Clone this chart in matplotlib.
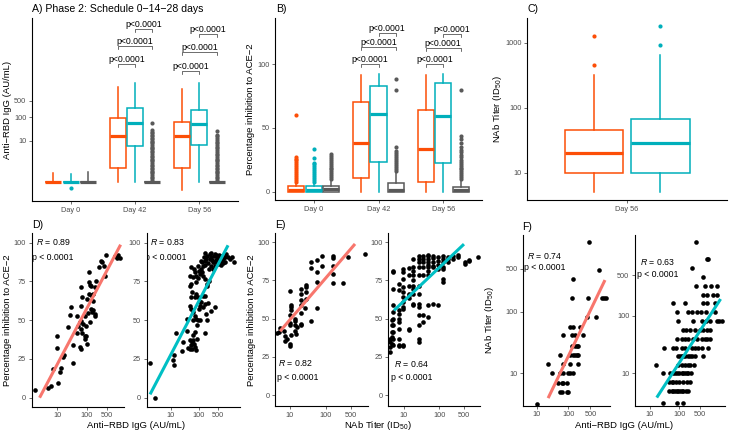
import numpy as np
import matplotlib
matplotlib.use("Agg")
import matplotlib.pyplot as plt

plt.rcParams["font.family"] = ["Liberation Sans", "DejaVu Sans"]
plt.rcParams["mathtext.fontset"] = "custom"
plt.rcParams["mathtext.rm"] = "Liberation Sans"
plt.rcParams["mathtext.it"] = "Liberation Sans:italic"
plt.rcParams["mathtext.default"] = "regular"

ORANGE = "#FC4E07"
TEAL = "#00AFBB"
GREY = "#595959"
FIT_L = "#F8766D"
FIT_R = "#00BFC4"

# ---------------- data ----------------
days = ["Day 0", "Day 42", "Day 56"]

# A) anti-RBD IgG (AU/mL), box stats per day
a_or_med = [0.17, 15.5, 15.5]
a_or_q1 = [0.17, 0.68, 0.68]
a_or_q3 = [0.17, 91, 61]
a_or_lo = [0.17, 0.17, 0.078]
a_or_hi = [0.41, 1890, 1550]
a_or_fl = [[], [], []]
a_te_med = [0.17, 56, 50]
a_te_q1 = [0.17, 5.8, 6.4]
a_te_q3 = [0.17, 241, 199]
a_te_lo = [0.17, 0.17, 0.17]
a_te_hi = [0.375, 2800, 2800]
a_te_fl = [[0.095], [], []]
a_gr_med = [0.17, 0.17, 0.17]
a_gr_q1 = [0.17, 0.17, 0.17]
a_gr_q3 = [0.17, 0.17, 0.17]
a_gr_lo = [0.17, 0.17, 0.17]
a_gr_hi = [0.46, 0.17, 0.17]
a_gr_fl = [[],
           [55.6, 28, 24, 20.8, 17, 15.5, 13, 11.6, 10, 8.6, 7.5, 6.4, 5.5, 4.8, 4.2, 3.6, 3.1,
            2.7, 2.3, 2.0, 1.7, 1.5, 1.3, 1.1, 0.95, 0.82, 0.7, 0.61, 0.52, 0.46, 0.4, 0.34, 0.29, 0.25, 0.21],
           [25.4, 18, 15, 12.5, 10.5, 9, 7.6, 6.4, 5.4, 4.6, 3.9, 3.3, 2.8, 2.4, 2.0, 1.7, 1.5,
            1.3, 1.1, 0.95, 0.82, 0.7, 0.61, 0.52, 0.46, 0.4, 0.34, 0.29, 0.25, 0.21]]
a_brackets = [[18000, 105000, 556000], [9060, 58300, 340000]]

# B) percentage inhibition to ACE-2
b_or_med = [1.5, 38.5, 33.5]
b_or_q1 = [0, 10.7, 7.3]
b_or_q3 = [4.8, 70.6, 64.3]
b_or_lo = [0, 0, 0]
b_or_hi = [7, 91.4, 91.4]
b_or_fl = [[8, 9.5, 11, 12.5, 14, 15.5, 17, 18.5, 20, 21.5, 23, 24.5, 26, 27.5, 60], [], []]
b_te_med = [1.5, 61, 59.8]
b_te_q1 = [0, 23.7, 22.4]
b_te_q3 = [4.8, 82.8, 85.4]
b_te_lo = [0, 0, 0]
b_te_hi = [7, 92, 92.6]
b_te_fl = [[8, 9.5, 11, 12.5, 14, 15.5, 17, 18.5, 20, 21.5, 22.5, 26.5, 33.5], [], []]
b_gr_med = [2, 1.2, 1]
b_gr_q1 = [0, 0, 0]
b_gr_q3 = [4.8, 6.8, 3.8]
b_gr_lo = [0, 0, 0]
b_gr_hi = [9, 15, 9]
b_gr_fl = [[10, 11.5, 13, 14.5, 16, 17.5, 19, 20.5, 22, 23.5, 25, 26.5, 28, 29.5],
           [16.5, 18, 19.5, 21, 22.5, 24, 25.5, 27, 28.5, 30, 32, 35, 80, 88.5],
           [10, 11.5, 13, 14.5, 16, 17.5, 19, 20.5, 22, 23.5, 25, 27, 29, 31, 33, 35, 38, 41, 44, 80]]
b_brackets = [[100, 113.8, 124.3], [100, 113, 124]]

# C) NAb titer at day 56 (orange, teal)
c_med = [20, 28]
c_q1 = [10, 10]
c_q3 = [45, 66]
c_lo = [5, 5]
c_hi = [320, 640]
c_fl = [[453, 1280], [905, 1810]]

# D) IgG vs inhibition
d1_igg = [1.8, 4.8, 5.9, 10.5, 12.3, 13.7, 6.9, 9.5, 10, 15.2,
          16.9, 33, 35, 23, 28.4, 26.3, 47.9, 50.5, 45.5, 57.5,
          65.5, 72.7, 65.5, 69, 85, 89.6, 59, 65.5, 100, 97,
          65.5, 69, 65.5, 116, 122, 129, 143, 116, 136, 159,
          168, 143, 151, 186, 196, 168, 186, 105, 110, 129,
          85, 97, 212, 255, 298, 330, 386, 429, 452, 890,
          1040, 1318, 1157]
d1_pct = [4.7, 6.0, 7.5, 9.3, 16.8, 19.4, 18.3, 32.1, 39.9, 26.5,
          27.4, 22.6, 33.8, 45.9, 58.2, 53.2, 52.8, 46.3, 42.0, 48.5,
          49.6, 47.2, 44.2, 42.0, 37.7, 39.9, 32.5, 31.3, 34.9, 39.9,
          59.3, 64.7, 71.1, 80.8, 74.8, 72.6, 72.2, 66.8, 66.2, 66.8,
          62.5, 57.1, 55.4, 53.9, 52.4, 56.7, 71.1, 63.6, 54.5, 48.9,
          52.4, 46.3, 75.4, 84.1, 88.4, 87.3, 85.1, 78.7, 92.0, 91.2,
          89.9, 90.1, 92.0]
d2_igg = [1.8, 2.7, 12, 13, 13, 16, 26, 28, 37, 39,
          42, 48, 55, 58, 63, 68, 72, 80, 49, 65,
          76, 90, 59, 49, 55, 63, 72, 83, 95, 100,
          109, 124, 143, 164, 188, 204, 63, 52, 58, 72,
          83, 95, 112, 143, 173, 215, 193, 283, 394, 168,
          109, 85, 48, 55, 83, 95, 109, 124, 143, 147,
          164, 204, 228, 95, 100, 118, 131, 155, 173, 204,
          215, 247, 283, 325, 353, 394, 427, 464, 518, 578,
          645, 740, 849, 973, 1117, 1280, 1828, 1550, 268, 325,
          373, 228, 490, 611, 740, 416, 283, 173, 247, 72,
          65, 80, 55, 68, 49, 188, 300, 353, 440, 545,
          680, 800, 900, 164, 131]
d2_pct = [22.6, 0, 24.1, 27.8, 20.9, 41.7, 30.1, 35.9, 42.7, 50.9,
          32.1, 31.2, 33.8, 35.9, 37, 34.8, 32.7, 30.6, 37, 40.2,
          42.3, 38, 31.6, 59, 57.3, 55.1, 53, 50.9, 49.8, 57.3,
          59.4, 61.5, 58.3, 60.5, 54.1, 50.4, 50.4, 64.7, 67.9, 64.7,
          66.9, 64.7, 62, 65.8, 65.8, 61.1, 72.2, 56.2, 58.3, 41.9,
          49.8, 46.6, 72.2, 73.3, 74.4, 76.9, 79.7, 82.9, 85, 78.6,
          76.5, 73.3, 75.4, 85, 81.8, 88.2, 87.2, 90.4, 88.2, 91.5,
          86.8, 89.3, 90.4, 87.2, 91.5, 92.5, 88.9, 90.4, 91.9, 88.2,
          91.5, 89.3, 91, 92.5, 90.4, 89.7, 87.6, 91, 85, 83.3,
          84.6, 82.9, 86.1, 85.5, 86.8, 91.9, 93.6, 93.2, 92.5, 80.8,
          77.6, 78.6, 84, 83.3, 78.6, 89.3, 88.9, 87.6, 87.2, 89.7,
          88.2, 90.4, 87.6, 85.5, 80.8]

# E) NAb titer vs inhibition
e1_nab = [4.4, 5.1, 5.3, 6.8, 7.1, 7.1, 8.1, 10, 10, 10,
          10, 10, 10.4, 10.4, 10.4, 10, 14, 14, 14, 14,
          14.7, 15.3, 20.6, 20.6, 19.8, 19.8, 19.8, 19.8, 27.8, 27.8,
          27.8, 27.8, 26.7, 39, 55, 55, 39, 39, 55, 76,
          76, 153, 153, 153, 153, 153, 303, 408, 1186, 20.6,
          10.9, 55]
e1_pct = [40.9, 41.3, 43.9, 41.7, 38.7, 35.2, 36.5, 33.3, 32, 45.7,
          47.4, 52.2, 58.7, 57.6, 55.4, 67.8, 41.7, 45.7, 48.3, 50,
          40.2, 44.6, 46.5, 53.9, 59.1, 62, 66.3, 69.6, 62.6, 67.4,
          70.7, 72.2, 57.2, 48.3, 57, 74.3, 87.4, 83, 88.7, 90.9,
          84.8, 90.9, 89.6, 84.8, 79.3, 73.5, 73.5, 90.2, 92.4, 45.7,
          39.1, 80.4]
e2_nab = [4.0, 4.0, 4.0, 4.0, 4.6, 4.6, 4.6, 4.6, 4.6, 5.0,
          5.0, 5.0, 5.0, 5.0, 5.0, 5.0, 5.0, 5.0, 5.0, 7.1,
          7.1, 7.1, 7.1, 7.1, 7.1, 7.1, 7.1, 7.1, 7.1, 9.6,
          9.6, 9.6, 9.6, 9.6, 9.6, 9.6, 9.6, 9.6, 9.6, 9.6,
          13.5, 13.5, 13.5, 13.5, 13.5, 13.5, 13.5, 13.5, 18.4, 18.4,
          18.4, 18.4, 18.4, 18.4, 18.4, 18.4, 18.4, 18.4, 26, 26,
          26, 26, 26, 26, 26, 26, 26, 26, 26, 26,
          26, 35, 35, 35, 35, 35, 35, 35, 49, 49,
          49, 49, 49, 49, 49, 49, 49, 49, 68, 68,
          68, 68, 68, 68, 94, 94, 94, 94, 94, 130,
          130, 130, 130, 130, 130, 130, 180, 180, 180, 250,
          250, 346, 346, 535, 535, 693, 693, 1276]
e2_pct = [28.3, 31.5, 34.8, 37, 33.7, 38, 41.3, 45.7, 48.9, 81.5,
          80.4, 69.1, 58.7, 54.3, 50, 45.7, 41.3, 37, 32.6, 72.8,
          68.5, 55.4, 53.3, 50, 47.8, 43.5, 37, 32.6, 32.2, 82.6,
          80.4, 76.1, 70.7, 67.4, 64.1, 60.9, 57.6, 56.5, 32.6, 32.2,
          83, 78.7, 71.7, 66.3, 65.2, 63.5, 43.5, 42.4, 89.1, 83.7,
          81.5, 78.7, 75, 71.7, 69.6, 66.3, 59.8, 58.7, 90.9, 89.1,
          87, 83.7, 78.7, 71.7, 66.3, 59.8, 57.6, 52.2, 45.7, 36.5,
          34.8, 91.3, 89.1, 87, 83.7, 78.7, 52.2, 47.8, 91.7, 90.9,
          89.1, 87, 85.2, 83.7, 81.5, 78.3, 58.7, 51.1, 91.3, 89.6,
          87.4, 84.8, 83.7, 59.8, 90.2, 88, 85.2, 82.2, 58.7, 91.3,
          89.1, 87.4, 83.7, 82.6, 76.1, 73.9, 90.2, 89.1, 87.4, 90.9,
          89.1, 90.2, 91.7, 87, 85.9, 88, 88.7, 90.2]

# F) IgG vs NAb titer
f1_igg = [453, 940, 138, 128, 431, 1140, 1352, 1563, 382, 755,
          113, 145, 235, 128, 163, 300, 70, 128, 163, 185,
          208, 113, 145, 163, 185, 208, 55, 67, 113, 208,
          23, 30, 55, 70, 100, 113, 145, 49, 62, 70,
          89, 55, 62, 89, 100, 10]
f1_nab = [1371, 475, 340, 169, 169, 169, 169, 169, 83, 83,
          57, 57, 57, 42, 42, 42, 42, 28, 28, 28,
          28, 20, 20, 20, 20, 20, 20, 14, 14, 14,
          14, 10, 10, 10, 10, 10, 10, 6.9, 6.9, 6.9,
          6.9, 5, 5, 5, 5, 3.2]
f2_igg = [372, 859, 980, 264, 661, 372, 754, 1178, 1884, 661,
          906, 1377, 1884, 59, 157, 628, 859, 1653, 86, 203,
          264, 413, 536, 815, 1653, 93, 286, 580, 815, 1117,
          1884, 2323, 2791, 137, 169, 232, 344, 509, 661, 906,
          1117, 81, 120, 157, 203, 301, 413, 580, 754, 906,
          1117, 31, 63, 77, 120, 157, 264, 344, 446, 580,
          980, 93, 106, 120, 137, 157, 203, 232, 264, 344,
          661, 16, 93, 120, 157, 203, 232, 318, 27, 48,
          59, 71, 86, 100, 120, 137, 157, 178, 203, 244,
          46, 55, 63, 77, 100, 137, 178, 232, 46, 55,
          63, 71, 81, 93, 106, 120, 137, 169, 203, 27,
          86, 137]
f2_nab = [1927, 964, 964, 682, 476, 332, 332, 332, 332, 229,
          229, 229, 229, 164, 164, 164, 164, 164, 114, 114,
          114, 114, 114, 114, 114, 81, 81, 81, 81, 81,
          81, 81, 81, 56.5, 56.5, 56.5, 56.5, 56.5, 56.5, 56.5,
          56.5, 40, 40, 40, 40, 40, 40, 40, 40, 40,
          40, 28, 28, 28, 28, 28, 28, 28, 28, 28,
          28, 20, 20, 20, 20, 20, 20, 20, 20, 20,
          20, 14, 14, 14, 14, 14, 14, 14, 10, 10,
          10, 10, 10, 10, 10, 10, 10, 10, 10, 10,
          7, 7, 7, 7, 7, 7, 7, 7, 5, 5,
          5, 5, 5, 5, 5, 5, 5, 5, 5, 3,
          3, 3]

# correlation results and fitted lines (y = a + b*log10(x); log10(y) for F)
r_values = [0.89, 0.83, 0.82, 0.64, 0.74, 0.63]
fit_intercept = [-14.25, -6.9, 21.9, 39.7, -0.853, -0.387]
fit_slope = [35.8, 34.5, 27.45, 21.9, 1.065, 0.785]
fit_x_from = [2.5, 1.83, 5.3, 5.2, 23, 17]
fit_x_to = [1425, 1117, 640, 500, 1450, 2570]

# ---------------- drawing ----------------
W, H = 731, 432
fig = plt.figure(figsize=(W / 100, H / 100), dpi=100)


def add_ax(x0, y0, x1, y1):
    # rectangle given in pixels from the top-left corner
    return fig.add_axes([x0 / W, 1 - y1 / H, (x1 - x0) / W, (y1 - y0) / H])


def style(ax):
    for s in ["top", "right"]:
        ax.spines[s].set_visible(False)
    for s in ["left", "bottom"]:
        ax.spines[s].set_linewidth(0.8)
    ax.tick_params(length=2.5, width=0.5, labelsize=5.3, labelcolor="#4D4D4D",
                   color="#333333", pad=1.5)
    ax.minorticks_off()


def boxes(ax, pos, width, color, med, q1, q3, lo, hi, fl):
    stats = [dict(med=m, q1=a, q3=b, whislo=l, whishi=h, fliers=f)
             for m, a, b, l, h, f in zip(med, q1, q3, lo, hi, fl)]
    ax.bxp(stats, positions=pos, widths=width, showcaps=False, patch_artist=True,
           manage_ticks=False,
           boxprops=dict(facecolor="white", edgecolor=color, linewidth=1.1),
           medianprops=dict(color=color, linewidth=2.3, solid_capstyle="butt"),
           whiskerprops=dict(color=color, linewidth=1.1),
           flierprops=dict(marker="o", markersize=3, markerfacecolor=color,
                           markeredgecolor=color, markeredgewidth=0))


def bracket(ax, xa, xb, y, ytip):
    ax.plot([xa, xa, xb, xb], [ytip, y, y, ytip], color="#333333", lw=0.5)
    ax.text((xa + xb) / 2, y, "p<0.0001", ha="center", va="bottom", fontsize=6.3)


cats = np.arange(1, 4)
off = [-0.27, 0, 0.27]
pairs = [(0, 1), (0, 2), (1, 2)]

# ----- A -----
axA = add_ax(32, 18, 238, 201)
axA.set_yscale("log")
boxes(axA, cats + off[0], 0.25, ORANGE, a_or_med, a_or_q1, a_or_q3, a_or_lo, a_or_hi, a_or_fl)
boxes(axA, cats + off[1], 0.25, TEAL, a_te_med, a_te_q1, a_te_q3, a_te_lo, a_te_hi, a_te_fl)
boxes(axA, cats + off[2], 0.25, GREY, a_gr_med, a_gr_q1, a_gr_q3, a_gr_lo, a_gr_hi, a_gr_fl)
for d, levels in zip([2, 3], a_brackets):
    for (i, j), y in zip(pairs, levels):
        bracket(axA, d + off[i], d + off[j], y, y / 10 ** 0.13)
axA.set_xlim(0.4, 3.6)
axA.set_ylim(10 ** -1.574, 10 ** 6.213)
style(axA)
axA.set_yticks([10, 100, 500], ["10", "100", "500"])
axA.set_xticks(cats, days)

# ----- B -----
axB = add_ax(275, 18, 482, 200)
boxes(axB, cats + off[0], 0.25, ORANGE, b_or_med, b_or_q1, b_or_q3, b_or_lo, b_or_hi, b_or_fl)
boxes(axB, cats + off[1], 0.25, TEAL, b_te_med, b_te_q1, b_te_q3, b_te_lo, b_te_hi, b_te_fl)
boxes(axB, cats + off[2], 0.25, GREY, b_gr_med, b_gr_q1, b_gr_q3, b_gr_lo, b_gr_hi, b_gr_fl)
for d, levels in zip([2, 3], b_brackets):
    for (i, j), y in zip(pairs, levels):
        bracket(axB, d + off[i], d + off[j], y, y - 2.4)
axB.set_xlim(0.4, 3.6)
axB.set_ylim(-6.5, 136.3)
style(axB)
axB.set_yticks([0, 50, 100])
axB.set_xticks(cats, days)

# ----- C -----
axC = add_ax(527, 18, 727, 200)
axC.set_yscale("log")
for k, col in enumerate([ORANGE, TEAL]):
    boxes(axC, [1 + [-0.2, 0.2][k]], 0.35, col, [c_med[k]], [c_q1[k]], [c_q3[k]],
          [c_lo[k]], [c_hi[k]], [c_fl[k]])
axC.set_xlim(0.4, 1.6)
axC.set_ylim(10 ** 0.577, 10 ** 3.377)
style(axC)
axC.set_yticks([10, 100, 1000], ["10", "100", "1000"])
axC.set_xticks([1], ["Day 56"])


# ----- scatter panels -----
def scatter(ax, x, y, k, color, logy=False):
    ax.scatter(x, y, s=11, color="black", linewidths=0, zorder=3)
    gx = np.linspace(np.log10(fit_x_from[k]), np.log10(fit_x_to[k]), 50)
    gy = fit_intercept[k] + fit_slope[k] * gx
    ax.plot(10 ** gx, 10 ** gy if logy else gy, color=color, lw=2.2, zorder=4,
            solid_capstyle="butt")
    ax.set_xscale("log")
    if logy:
        ax.set_yscale("log")


def stat(ax, r, xr, yr, xp, yp):
    ax.text(xr, yr, r"$\mathit{R}$ = " + f"{r:.2f}", transform=ax.transAxes,
            fontsize=6.3, va="center", ha="left", clip_on=True)
    ax.text(xp, yp, "p < 0.0001", transform=ax.transAxes,
            fontsize=6.3, va="center", ha="left", clip_on=True)


# D
axD1 = add_ax(31.7, 233.3, 124, 406.7)
scatter(axD1, d1_igg, d1_pct, 0, FIT_L)
axD1.set_xlim(1.35, 1858)
axD1.set_ylim(-5.8, 106)
stat(axD1, r_values[0], 0.05, 0.948, 0.0, 0.859)
axD2 = add_ax(146.7, 233.3, 240, 406.7)
scatter(axD2, d2_igg, d2_pct, 1, FIT_R)
axD2.set_xlim(1.39, 2985)
axD2.set_ylim(-5.8, 106)
stat(axD2, r_values[1], 0.035, 0.948, -0.016, 0.859)

# E
axE1 = add_ax(275, 233, 368, 406)
scatter(axE1, e1_nab, e1_pct, 2, FIT_L)
axE1.set_xlim(3.83, 1468)
axE1.set_ylim(-7.2, 106.1)
stat(axE1, r_values[2], 0.035, 0.247, 0.025, 0.166)
axE2 = add_ax(388.3, 233, 480, 406)
scatter(axE2, e2_nab, e2_pct, 3, FIT_R)
axE2.set_xlim(3.59, 1422)
axE2.set_ylim(-7.2, 106.1)
stat(axE2, r_values[3], 0.062, 0.241, 0.026, 0.164)

# F
axF1 = add_ax(523.3, 235, 610, 405.7)
scatter(axF1, f1_igg, f1_nab, 4, FIT_L, logy=True)
axF1.set_xlim(3.77, 2090)
axF1.set_ylim(2.98, 1759)
stat(axF1, r_values[4], 0.039, 0.879, 0.008, 0.808)
axF2 = add_ax(635, 235, 725, 405.7)
scatter(axF2, f2_igg, f2_nab, 5, FIT_R, logy=True)
axF2.set_xlim(3.08, 3630)
axF2.set_ylim(2.74, 2518)
stat(axF2, r_values[5], 0.056, 0.84, 0.026, 0.766)

for ax in [axD1, axD2, axE1, axE2]:
    style(ax)
    ax.set_yticks([0, 25, 50, 75, 100])
    ax.set_xticks([10, 100, 500], ["10", "100", "500"])
for ax in [axF1, axF2]:
    style(ax)
    ax.set_yticks([10, 100, 500], ["10", "100", "500"])
    ax.set_xticks([10, 100, 500], ["10", "100", "500"])

# ----- titles and axis labels -----
TS = 7.6
LS = 6.8


def ftext(x, y, s, **kw):
    fig.text(x / W, 1 - y / H, s, **kw)


ftext(32, 9, "A) Phase 2: Schedule 0\u221214\u221228 days", fontsize=TS, va="center")
ftext(276, 9, "B)", fontsize=TS, va="center")
ftext(527, 9, "C)", fontsize=TS, va="center")
ftext(32, 225, "D)", fontsize=TS, va="center")
ftext(275, 225, "E)", fontsize=TS, va="center")
ftext(522, 227, "F)", fontsize=TS, va="center")

ftext(8, 109.5, "Anti\u2212RBD IgG (AU/mL)", fontsize=LS, rotation=90, ha="center", va="center")
ftext(250, 109, "Percentage inhibition to ACE\u22122", fontsize=LS, rotation=90, ha="center", va="center")
ftext(497, 109, "NAb Titer (ID$_{50}$)", fontsize=LS, rotation=90, ha="center", va="center")
ftext(8, 320, "Percentage inhibition to ACE\u22122", fontsize=LS, rotation=90, ha="center", va="center")
ftext(251, 320, "Percentage inhibition to ACE\u22122", fontsize=LS, rotation=90, ha="center", va="center")
ftext(489, 320, "NAb Titer (ID$_{50}$)", fontsize=LS, rotation=90, ha="center", va="center")
ftext(136, 425, "Anti\u2212RBD IgG (AU/mL)", fontsize=LS, ha="center", va="center")
ftext(378, 425, "NAb Titer (ID$_{50}$)", fontsize=LS, ha="center", va="center")
ftext(624, 425, "Anti\u2212RBD IgG (AU/mL)", fontsize=LS, ha="center", va="center")

fig.savefig("out.png", dpi=100)
